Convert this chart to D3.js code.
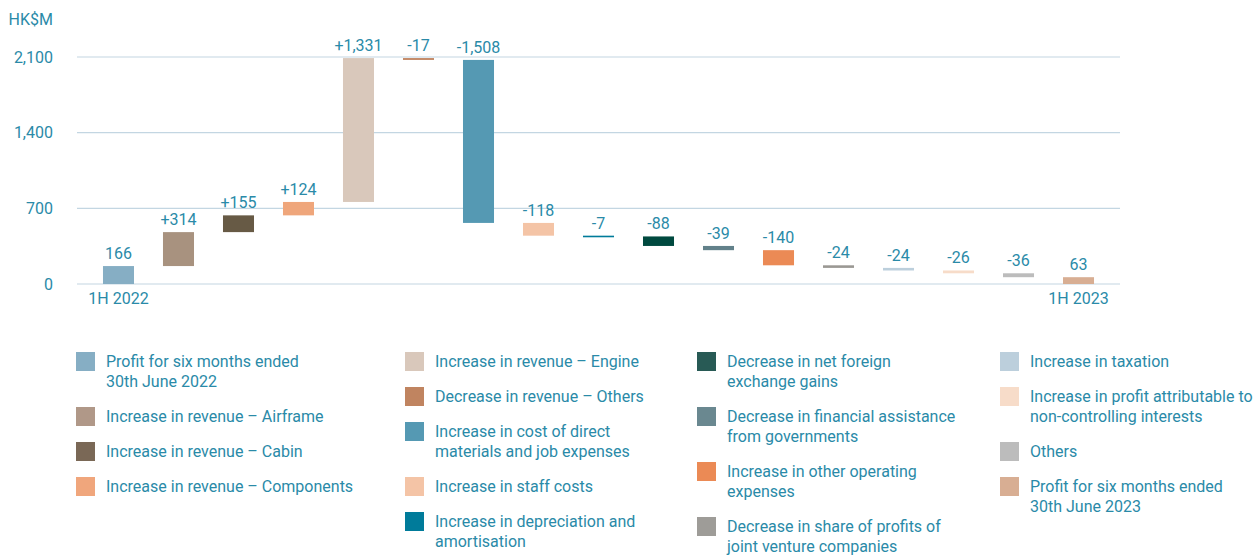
<html>
<head>
<meta charset="utf-8" />
<title>Profit bridge 1H 2022 to 1H 2023</title>
<script src="https://cdn.jsdelivr.net/npm/d3@7"></script>
<style>
  body { margin: 0; background: #fff; }
  text { font-family: Roboto, "Open Sans", sans-serif; fill: #2a8aa8; }
</style>
</head>
<body>
<script>

// data: each step of the bridge
var steps = ["1H 2022", "Airframe", "Cabin", "Components", "Engine", "RevOthers", "Direct", "Staff", "Depr",
             "FX", "Assist", "OtherOp", "JV", "Tax", "NCI", "Others", "1H 2023"];
var changes = [166, 314, 155, 124, 1331, -17, -1508, -118, -7, -88, -39, -140, -24, -24, -26, -36, 63];
var labels = ["166", "+314", "+155", "+124", "+1,331", "-17", "-1,508", "-118", "-7", "-88", "-39", "-140",
              "-24", "-24", "-26", "-36", "63"];
var totals = [true, false, false, false, false, false, false, false, false, false, false, false, false, false, false, false, true];
var colors = ["#86aec4", "#a8927f", "#675a45", "#efa67b", "#d9c8bb", "#c08460", "#5599b3", "#f4c4a6", "#007b9a",
              "#00493f", "#62818a", "#eb8a55", "#9a9893", "#bccfdc", "#f7dcc9", "#bcbcbc", "#d8ae93"];
var legendColors = ["#86aec4", "#b09888", "#7a6856", "#f0a67c", "#d9c8bb", "#c08460", "#5599b3", "#f4c4a6", "#007b9a",
                    "#285a55", "#6a8890", "#eb8a55", "#9e9c98", "#bccfdc", "#f7dcc9", "#bcbcbc", "#d8ae93"];
var legendText = [
  ["Profit for six months ended", "30th June 2022"],
  ["Increase in revenue \u2013 Airframe"],
  ["Increase in revenue \u2013 Cabin"],
  ["Increase in revenue \u2013 Components"],
  ["Increase in revenue \u2013 Engine"],
  ["Decrease in revenue \u2013 Others"],
  ["Increase in cost of direct", "materials and job expenses"],
  ["Increase in staff costs"],
  ["Increase in depreciation and", "amortisation"],
  ["Decrease in net foreign", "exchange gains"],
  ["Decrease in financial assistance", "from governments"],
  ["Increase in other operating", "expenses"],
  ["Decrease in share of profits of", "joint venture companies"],
  ["Increase in taxation"],
  ["Increase in profit attributable to", "non-controlling interests"],
  ["Others"],
  ["Profit for six months ended", "30th June 2023"]
];
var legendColumns = [[0, 1, 2, 3], [4, 5, 6, 7, 8], [9, 10, 11, 12], [13, 14, 15, 16]];
var yTicks = [0, 700, 1400, 2100];

var width = 1258, height = 556;
var svg = d3.select("body").append("svg").attr("width", width).attr("height", height);

// running totals -> start/end of each bar
var run = 0;
var bars = steps.map(function(s, i) {
  var start, end;
  if (totals[i]) { start = 0; end = changes[i]; run = changes[i]; }
  else { start = run; end = run + changes[i]; run = end; }
  return {key: s, start: start, end: end, label: labels[i], color: colors[i]};
});

var gridLeft = 77, gridRight = 1120;
var yScale = d3.scaleLinear().domain([0, 2100]).range([284, 57]);
var xScale = d3.scaleBand().domain(steps).range([gridLeft, gridRight]).paddingInner(0.483).paddingOuter(0.433);

// grid lines
svg.append("g").selectAll("line").data(yTicks).enter().append("line")
  .attr("x1", gridLeft).attr("x2", gridRight)
  .attr("y1", d => yScale(d)).attr("y2", d => yScale(d))
  .attr("stroke", "#c3d6e2").attr("stroke-width", 1.2);

var yAxis = svg.append("g").attr("transform", "translate(53,0)")
  .call(d3.axisLeft(yScale).tickValues(yTicks).tickSize(0).tickPadding(0).tickFormat(d3.format(",")));
yAxis.select(".domain").remove();
yAxis.selectAll("text").attr("font-size", 16).attr("fill", "#2a8aa8").style("font-family", "Roboto");

svg.append("text").attr("x", 53).attr("y", 25).attr("text-anchor", "end").attr("font-size", 16).text("HK$M");

// bars
svg.append("g").selectAll("rect").data(bars).enter().append("rect")
  .attr("x", d => xScale(d.key))
  .attr("width", xScale.bandwidth())
  .attr("y", d => yScale(Math.max(d.start, d.end)))
  .attr("height", d => Math.max(1.6, Math.abs(yScale(d.start) - yScale(d.end))))
  .attr("fill", d => d.color);

// value labels
svg.append("g").selectAll("text").data(bars).enter().append("text")
  .attr("x", d => xScale(d.key) + xScale.bandwidth() / 2)
  .attr("y", d => yScale(Math.max(d.start, d.end)) - 7)
  .attr("text-anchor", "middle").attr("font-size", 16)
  .text(d => d.label);

// period labels
[0, 16].forEach(function(i) {
  svg.append("text")
    .attr("x", xScale(steps[i]) + xScale.bandwidth() / 2)
    .attr("y", 304).attr("text-anchor", "middle").attr("font-size", 16)
    .text(steps[i]);
});

// legend
var colX = [76, 405, 697, 1000];
legendColumns.forEach(function(col, c) {
  var y = 352;
  col.forEach(function(i) {
    var g = svg.append("g").attr("transform", "translate(" + colX[c] + "," + y + ")");
    g.append("rect").attr("width", 19).attr("height", 19).attr("fill", legendColors[i]);
    legendText[i].forEach(function(line, k) {
      g.append("text").attr("x", 30).attr("y", 15 + k * 20).attr("font-size", 16).text(line);
    });
    y += legendText[i].length * 20 + 15;
  });
});

</script>
</body>
</html>
